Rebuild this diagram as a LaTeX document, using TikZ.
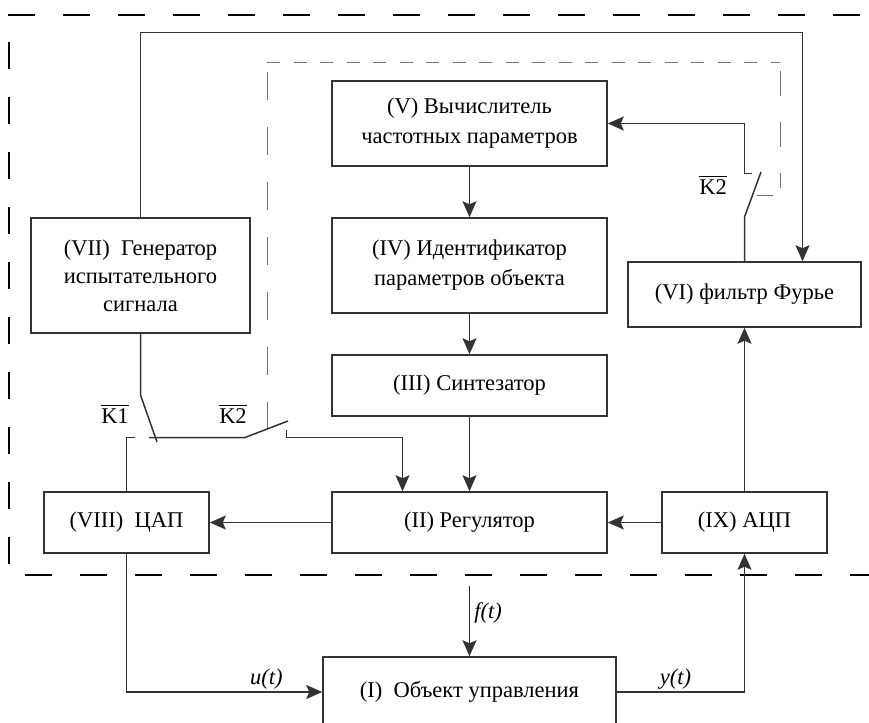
\documentclass[tikz,border=0pt]{standalone}
\usepackage{fontspec}
\setmainfont{Liberation Serif}
\usetikzlibrary{arrows.meta}
\newcommand{\ovl}[1]{\vbox{\hrule height 1.3pt \kern 2.5pt \hbox{#1}}}

\begin{document}
\begin{tikzpicture}[x=1pt, y=-1pt,
		font=\fontsize{22.5}{30}\selectfont,
		blok/.style={draw=black!80, line width=1.5pt, align=center, inner sep=0pt},
		wire/.style={draw=black!80, line width=1.5pt},
		sig/.style={wire, -{Stealth[length=16pt, width=14pt, inset=3pt]}},
		bound/.style={draw=black, line width=2.2pt, dash pattern=on 27pt off 28pt},
		inner/.style={draw=black!55, line width=1.5pt}]
	\useasboundingbox (0,0) rectangle (869,722);

	% blocks
	\node[blok, minimum width=293pt, minimum height=70pt] (obj) at (469.5,692) {(I)\ \ Объект управления};
	\node[blok, minimum width=275pt, minimum height=61pt] (reg) at (469.5,522.5) {(II) Регулятор};
	\node[blok, minimum width=275pt, minimum height=61pt] (synt) at (469.5,385.5) {(III) Синтезатор};
	\node[blok, minimum width=275pt, minimum height=95pt] (ident) at (469.5,265.5) {(IV) Идентификатор\\параметров объекта};
	\node[blok, minimum width=275pt, minimum height=85pt] (calc) at (469.5,123.5) {(V) Вычислитель\\частотных параметров};
	\node[blok, minimum width=233pt, minimum height=65pt] (four) at (744.5,294.5) {(VI) фильтр Фурье};
	\node[blok, minimum width=219pt, minimum height=115pt, font=\fontsize{22.5}{28}\selectfont] (gen) at (140.5,275.5) {(VII)\ \ Генератор\\испытательного\\сигнала};
	\node[blok, minimum width=165pt, minimum height=61pt] (dac) at (126.5,522.5) {(VIII)\ \ ЦАП};
	\node[blok, minimum width=165pt, minimum height=61pt] (adc) at (744.5,522.5) {(IX) АЦП};

	% switch points
	\coordinate (k1a) at (140.5,395);
	\coordinate (k1b) at (157,442);
	\coordinate (k1c) at (135,437.5);
	\coordinate (k1d) at (149,437.5);
	\coordinate (k2a) at (245,437.5);
	\coordinate (k2b) at (288,421);
	\coordinate (k2c) at (286.5,430);
	\coordinate (k2e) at (402.5,437.5);
	\coordinate (k3a) at (744.5,217);
	\coordinate (k3b) at (761,172);
	\coordinate (k3c) at (752,173.5);
	\coordinate (k3d) at (744.5,173.5);
	\coordinate (top) at (802.5,32.5);
	\coordinate (dist) at (469.5,586);

	\node (lk1) at (115,414) {\ovl{K1}};
	\node (lk2) at (233,414) {\ovl{K2}};
	\node (lk3) at (713,185) {\ovl{K2}};

	% boundaries
	\draw[bound] (8,15) -- (869,15);
	\draw[bound] (9,42) -- (9,575);
	\draw[bound] (25,575) -- (869,575);
	\draw[inner, dash pattern=on 13pt off 13.5pt] (267,62.5) -- (780,62.5);
	\draw[inner, dash pattern=on 28pt off 27pt] (267.5,72) -- (267.5,429);
	\draw[inner, dash pattern=on 25pt off 26pt] (780.5,71) -- (780.5,188);
	\draw[inner] (773,195.5) -- (757,195.5);

	% connections
	\draw[sig] (calc.south) -- (ident.north);
	\draw[sig] (ident.south) -- (synt.north);
	\draw[sig] (synt.south) -- (reg.north);
	\draw[sig] (adc.west) -- (reg.east);
	\draw[sig] (reg.west) -- (dac.east);
	\draw[sig] (adc.north) -- (four.south);
	\draw[sig] (gen.north) |- (top) -- (top |- four.north);
	\draw[wire] (four.north) -- (k3a) -- (k3b);
	\draw[sig] (k3c) -- (k3d) |- (calc.east);
	\draw[wire] (gen.south) -- (k1a) -- (k1b);
	\draw[wire] (dac.north) |- (k1c);
	\draw[wire] (k1d) -- (k2a) -- (k2b);
	\draw[sig] (k2c) |- (k2e) -- (k2e |- reg.north);
	\draw[sig] (dac.south) |- (obj.west) node[pos=0.857, above, inner sep=2pt] {\textit{u(t)}};
	\draw[sig] (obj.east) -| (adc.south) node[pos=0.23, above, inner sep=2pt] {\textit{y(t)}};
	\draw[sig] (dist) -- (obj.north) node[pos=0.38, right, inner sep=4pt] {\textit{f(t)}};
\end{tikzpicture}
\end{document}
